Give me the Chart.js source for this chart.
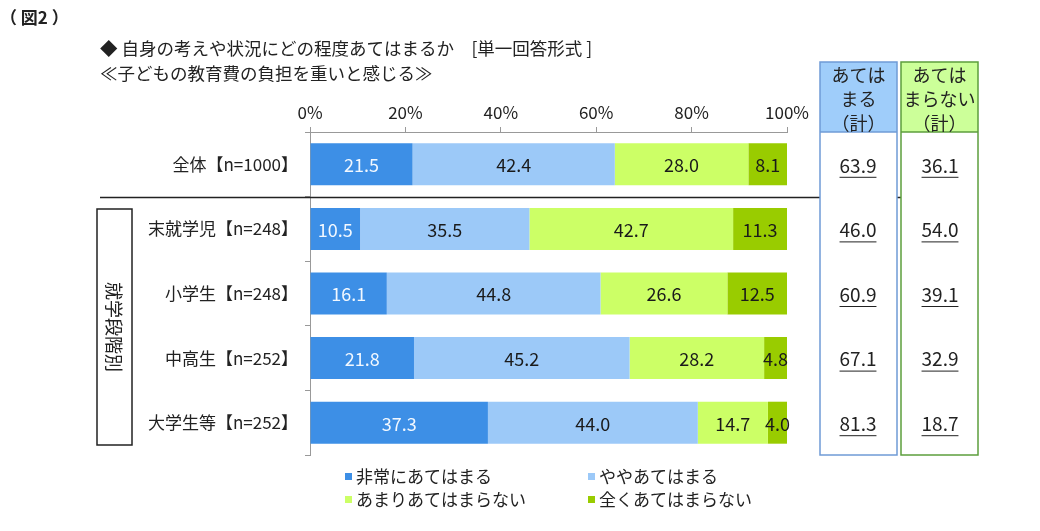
<!DOCTYPE html>
<html>
<head>
<meta charset="utf-8">
<script src="https://cdn.jsdelivr.net/npm/chart.js@4.4.1/dist/chart.umd.min.js"></script>
<style>
  body { margin: 0; background: #fff; }
  #wrap { width: 1040px; height: 531px; position: relative; }
</style>
</head>
<body>
<div id="wrap"><canvas id="chart"></canvas></div>
<script>
var categories = ['全体【n=1000】', '末就学児【n=248】', '小学生【n=248】', '中高生【n=252】', '大学生等【n=252】'];
var seriesNames = ['非常にあてはまる', 'ややあてはまる', 'あまりあてはまらない', '全くあてはまらない'];
var strongly = [21.5, 10.5, 16.1, 21.8, 37.3];
var somewhat = [42.4, 35.5, 44.8, 45.2, 44.0];
var notMuch = [28.0, 42.7, 26.6, 28.2, 14.7];
var notAtAll = [8.1, 11.3, 12.5, 4.8, 4.0];
var applyTotal = [63.9, 46.0, 60.9, 67.1, 81.3];
var notApplyTotal = [36.1, 54.0, 39.1, 32.9, 18.7];
var xTicks = [0, 20, 40, 60, 80, 100];

var FONT = '"Noto Sans CJK JP", "Noto Sans", sans-serif';
var colors = ['#3d8fe6', '#9cc9f8', '#ccff66', '#99cc00'];

function drawBox(ctx, x, y, w, h, headerH, fill, stroke, lines) {
  ctx.save();
  ctx.fillStyle = '#fff';
  ctx.fillRect(x, y, w, h);
  ctx.fillStyle = fill;
  ctx.fillRect(x, y, w, headerH);
  ctx.strokeStyle = stroke;
  ctx.lineWidth = 1.5;
  ctx.strokeRect(x, y, w, h);
  ctx.beginPath();
  ctx.moveTo(x, y + headerH);
  ctx.lineTo(x + w, y + headerH);
  ctx.stroke();
  ctx.fillStyle = '#222';
  ctx.font = '18px ' + FONT;
  ctx.textAlign = 'center';
  ctx.textBaseline = 'middle';
  for (var i = 0; i < lines.length; i++) {
    ctx.fillText(lines[i], x + w / 2, y + 13 + i * 24);
  }
  ctx.restore();
}

function underlinedText(ctx, text, x, y) {
  ctx.fillText(text, x, y);
  var w = ctx.measureText(text).width;
  ctx.beginPath();
  ctx.moveTo(x - w / 2, y + 12);
  ctx.lineTo(x + w / 2, y + 12);
  ctx.stroke();
}

var extras = {
  id: 'extras',
  afterDatasetsDraw(chart) {
    var ctx = chart.ctx;
    ctx.save();
    ctx.font = '18px ' + FONT;
    ctx.textAlign = 'center';
    ctx.textBaseline = 'middle';
    chart.data.datasets.forEach(function (ds, di) {
      var meta = chart.getDatasetMeta(di);
      meta.data.forEach(function (bar, i) {
        ctx.fillStyle = di == 0 ? '#f2f8ff' : '#1a1a1a';
        var left = bar.base, right = bar.x;
        ctx.fillText(ds.data[i].toFixed(1), (left + right) / 2, bar.y + 1);
      });
    });
    ctx.restore();
  },
  afterDraw(chart) {
    var ctx = chart.ctx;
    var area = chart.chartArea;
    var yScale = chart.scales.y;
    ctx.save();

    // titles
    ctx.fillStyle = '#222';
    ctx.textBaseline = 'middle';
    ctx.textAlign = 'left';
    ctx.font = 'bold 17px ' + FONT;
    ctx.fillText('（ 図2 ）', 0, 18);
    ctx.font = '17.5px ' + FONT;
    ctx.fillText('◆ 自身の考えや状況にどの程度あてはまるか　[単一回答形式 ]', 100, 48);
    ctx.fillText('≪子どもの教育費の負担を重いと感じる≫', 100, 73);

    // separator under 全体
    var sepY = Math.round((yScale.getPixelForValue(0) + yScale.getPixelForValue(1)) / 2) + 0.5;
    ctx.strokeStyle = '#222';
    ctx.lineWidth = 1.5;
    ctx.beginPath();
    ctx.moveTo(100, sepY);
    ctx.lineTo(976, sepY);
    ctx.stroke();

    // left group box
    ctx.strokeRect(97, 209, 35, 236);
    ctx.save();
    ctx.translate(114, 327);
    ctx.rotate(Math.PI / 2);
    ctx.textAlign = 'center';
    ctx.font = '18px ' + FONT;
    ctx.fillText('就学段階別', 0, 0);
    ctx.restore();

    // total boxes
    drawBox(ctx, 820, 62, 77, area.bottom - 62, area.top - 62, '#9fcdfa', '#6f9bd6', ['あては', 'まる', '（計）']);
    drawBox(ctx, 901, 62, 77, area.bottom - 62, area.top - 62, '#ccff99', '#5c9e3c', ['あては', 'まらない', '（計）']);

    ctx.font = '19px ' + FONT;
    ctx.textAlign = 'center';
    ctx.fillStyle = '#222';
    ctx.strokeStyle = '#222';
    ctx.lineWidth = 1;
    for (var i = 0; i < categories.length; i++) {
      var y = yScale.getPixelForValue(i) + 1;
      underlinedText(ctx, applyTotal[i].toFixed(1), 858, y);
      underlinedText(ctx, notApplyTotal[i].toFixed(1), 940, y);
    }

    // legend
    ctx.font = '17px ' + FONT;
    ctx.textAlign = 'left';
    var legendPos = [[345, 477], [588, 477], [345, 500], [588, 500]];
    for (var k = 0; k < seriesNames.length; k++) {
      ctx.fillStyle = colors[k];
      ctx.fillRect(legendPos[k][0], legendPos[k][1] - 4, 7, 7);
      ctx.fillStyle = '#222';
      ctx.fillText(seriesNames[k], legendPos[k][0] + 11, legendPos[k][1]);
    }
    ctx.restore();
  }
};

var ctx = document.getElementById('chart');
new Chart(ctx, {
  type: 'bar',
  data: {
    labels: categories,
    datasets: [
      { label: seriesNames[0], data: strongly, backgroundColor: colors[0] },
      { label: seriesNames[1], data: somewhat, backgroundColor: colors[1] },
      { label: seriesNames[2], data: notMuch, backgroundColor: colors[2] },
      { label: seriesNames[3], data: notAtAll, backgroundColor: colors[3] }
    ]
  },
  options: {
    indexAxis: 'y',
    responsive: true,
    maintainAspectRatio: false,
    animation: false,
    layout: { padding: { left: 0, right: 253, top: 0, bottom: 76 } },
    datasets: { bar: { barPercentage: 0.65, categoryPercentage: 1 } },
    plugins: { legend: { display: false }, tooltip: { enabled: false } },
    scales: {
      x: {
        position: 'top',
        stacked: true,
        min: 0,
        max: 100,
        afterBuildTicks: function (scale) {
          scale.ticks = xTicks.map(function (v) { return { value: v }; });
        },
        afterFit: function (scale) { scale.height = 132; },
        grid: { drawOnChartArea: false, drawTicks: true, tickLength: 5, color: '#999' },
        border: { display: true, color: '#999' },
        ticks: {
          padding: 4,
          color: '#222',
          font: { size: 17, family: FONT },
          callback: function (v) { return v + '%'; }
        }
      },
      y: {
        stacked: true,
        afterFit: function (scale) { scale.width = 310; },
        grid: { drawOnChartArea: false, drawTicks: true, tickLength: 5, color: '#999', offset: true },
        border: { display: true, color: '#999' },
        ticks: {
          padding: 7,
          color: '#222',
          font: { size: 17, family: FONT }
        }
      }
    }
  },
  plugins: [extras]
});
</script>
</body>
</html>
